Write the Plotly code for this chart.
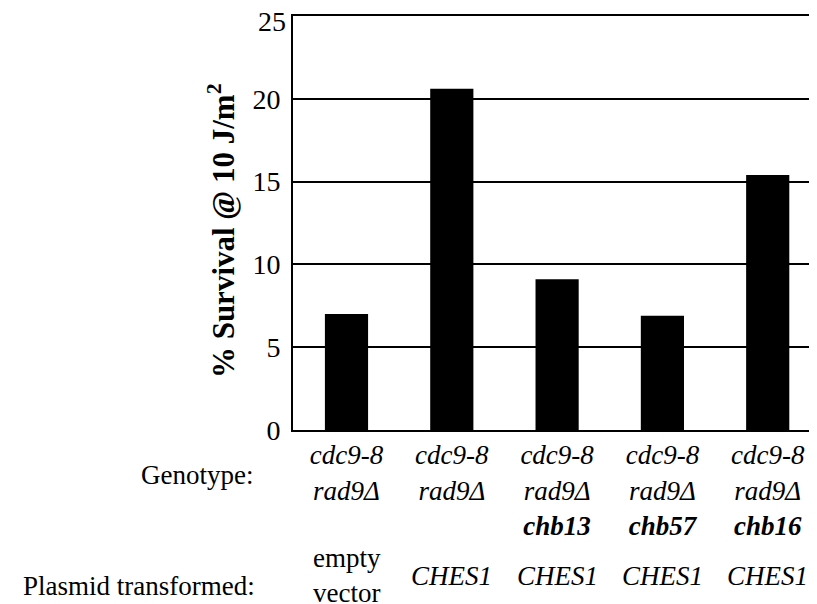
import plotly.graph_objects as go

genotype_line1 = ["cdc9-8", "cdc9-8", "cdc9-8", "cdc9-8", "cdc9-8"]
genotype_line2 = ["rad9Δ", "rad9Δ", "rad9Δ", "rad9Δ", "rad9Δ"]
genotype_line3 = ["", "", "chb13", "chb57", "chb16"]
plasmids = ["empty<br>vector", "<i>CHES1</i>", "<i>CHES1</i>", "<i>CHES1</i>", "<i>CHES1</i>"]
survival = [7.0, 20.6, 9.1, 6.9, 15.4]
y_ticks = [0, 5, 10, 15, 20]
y_top = 25
y_title = "<b>% Survival @ 10 J/m<sup>2</sup></b>"

positions = list(range(len(survival)))
ticktext = []
for a, b, c in zip(genotype_line1, genotype_line2, genotype_line3):
    t = f"<i>{a}<br>{b}"
    if c:
        t += f"<br><b>{c}</b>"
    t += "</i>"
    ticktext.append(t)

FONT = "Liberation Serif, Times New Roman, serif"

fig = go.Figure()
fig.add_trace(go.Bar(x=positions, y=survival, width=0.41,
                     marker=dict(color="black", line=dict(width=0))))

# the page body adds an 8px offset; margins compensate for it
fig.update_layout(
    width=817, height=604,
    margin=dict(l=285, r=4, t=8, b=182, autoexpand=False),
    paper_bgcolor="white", plot_bgcolor="white",
    font=dict(family=FONT, size=27, color="black"),
    showlegend=False,
    xaxis=dict(
        range=[-0.508, 4.506], automargin=False,
        tickmode="array", tickvals=positions, ticktext=ticktext,
        tickfont=dict(size=27),
        showgrid=False, zeroline=False,
        showline=True, mirror=True, linecolor="black", linewidth=2,
        ticks="", ticklabelstandoff=0,
    ),
    yaxis=dict(
        range=[0, y_top], automargin=False,
        tickmode="array", tickvals=y_ticks, ticktext=[str(v) for v in y_ticks],
        tickfont=dict(size=28),
        showgrid=True, gridcolor="black", gridwidth=2,
        zeroline=False,
        showline=True, linecolor="black", linewidth=2,
        ticks="", ticklabelstandoff=5,
    ),
)

# top tick label sits slightly below its line, as in the reference
fig.add_annotation(text=str(y_top), xref="paper", yref="y", x=0, y=y_top,
                   xanchor="right", yanchor="middle", xshift=-5, yshift=-5,
                   showarrow=False, font=dict(size=28))
fig.add_annotation(text=y_title, xref="paper", yref="paper", x=-0.134, y=0.481,
                   xanchor="center", yanchor="middle", textangle=-90,
                   showarrow=False, font=dict(size=31))
fig.add_annotation(text="Genotype:", xref="paper", yref="paper",
                   x=-0.072, y=-0.109, xanchor="right", yanchor="middle",
                   showarrow=False, font=dict(size=27))
fig.add_annotation(text="Plasmid transformed:", xref="paper", yref="paper",
                   x=-0.068, y=-0.378, xanchor="right", yanchor="middle",
                   showarrow=False, font=dict(size=27))
for xpos, p in zip(positions, plasmids):
    fig.add_annotation(text=p, xref="x", yref="paper", x=xpos, y=-0.352,
                       xanchor="center", yanchor="middle", showarrow=False,
                       font=dict(size=27))

fig.write_html("out.html")
